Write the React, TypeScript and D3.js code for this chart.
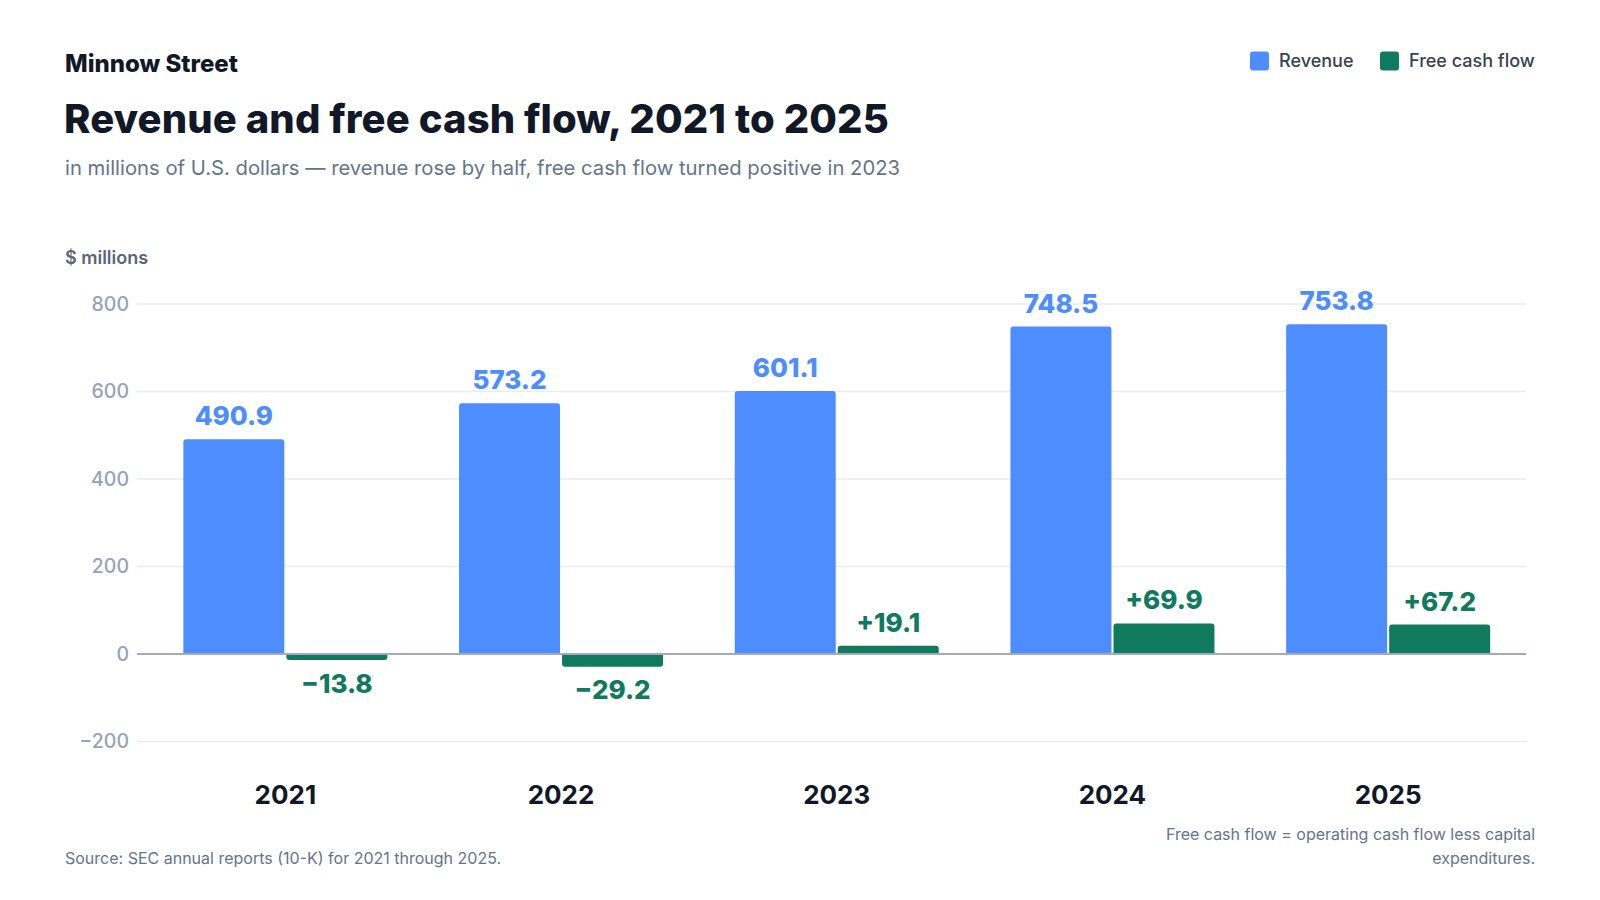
import React from "react";
import * as d3 from "d3";

const years = ["2021", "2022", "2023", "2024", "2025"];
const revenue = [490.9, 573.2, 601.1, 748.5, 753.8];
const freeCashFlow = [-13.8, -29.2, 19.1, 69.9, 67.2];
const yTicks = [-200, 0, 200, 400, 600, 800];
const seriesNames = ["Revenue", "Free cash flow"];
const seriesColors = ["#4D8DFF", "#0F7A5E"];

const FONT = "Inter, 'Noto Sans', sans-serif";

function barPath(x: number, w: number, y0: number, y1: number, r: number) {
  const h = Math.abs(y1 - y0);
  const rr = Math.min(r, h / 2, w / 2);
  if (y1 <= y0) {
    return `M${x},${y0} L${x},${y1 + rr} Q${x},${y1} ${x + rr},${y1} L${x + w - rr},${y1} Q${x + w},${y1} ${x + w},${y1 + rr} L${x + w},${y0} Z`;
  }
  return `M${x},${y0} L${x},${y1 - rr} Q${x},${y1} ${x + rr},${y1} L${x + w - rr},${y1} Q${x + w},${y1} ${x + w},${y1 - rr} L${x + w},${y0} Z`;
}

function fmtFcf(v: number) {
  return (v < 0 ? "\u2212" : "+") + Math.abs(v).toFixed(1);
}
function fmtTick(v: number) {
  return v < 0 ? "\u2212" + Math.abs(v) : String(v);
}

export default function App() {
  const W = 1600;
  const H = 900;
  const x = d3
    .scaleBand<string>()
    .domain(years)
    .range([147.5, 1526])
    .paddingInner(0.26)
    .paddingOuter(0.13);
  const xs = d3
    .scaleBand<string>()
    .domain(seriesNames)
    .range([0, x.bandwidth()])
    .paddingInner(0.02);
  const y = d3.scaleLinear().domain([-200, 800]).range([741.5, 304]);
  const gridX0 = 137;
  const gridX1 = 1526;

  return (
    <svg
      width={W}
      height={H}
      viewBox={`0 0 ${W} ${H}`}
      style={{ position: "absolute", left: 0, top: 0, background: "#fff", fontFamily: FONT }}
    >
      <rect x={0} y={0} width={W} height={H} fill="#ffffff" />
      {/* Header */}
      <text x={65} y={71.5} fontSize={24} fontWeight={800} fill="#111827">
        Minnow Street
      </text>
      <text x={64} y={133} fontSize={40} fontWeight={800} fill="#111827" letterSpacing={0.1}>
        Revenue and free cash flow, 2021 to 2025
      </text>
      <text x={65} y={175} fontSize={20.25} fontWeight={400} fill="#64748B">
        in millions of U.S. dollars — revenue rose by half, free cash flow turned positive in 2023
      </text>

      {/* Legend */}
      {seriesNames.map((s, i) => {
        const lx = i === 0 ? 1250 : 1380;
        return (
          <g key={s}>
            <rect x={lx} y={51.5} width={19} height={19} rx={3} fill={seriesColors[i]} />
            <text x={lx + 29} y={67.3} fontSize={18} fontWeight={500} fill="#374151">
              {s}
            </text>
          </g>
        );
      })}

      {/* Axis title */}
      <text x={65} y={264} fontSize={18} fontWeight={600} fill="#5B6577">
        $ millions
      </text>

      {/* Gridlines and ticks */}
      {yTicks.map((t) => (
        <g key={t}>
          {t !== 0 && (
            <line x1={gridX0} x2={gridX1} y1={y(t)} y2={y(t)} stroke="#E8EBF0" strokeWidth={1.5} />
          )}
          <text
            x={129}
            y={y(t)}
            dy="0.35em"
            textAnchor="end"
            fontSize={19.5}
            fontWeight={500}
            fill="#94A3B8"
          >
            {fmtTick(t)}
          </text>
        </g>
      ))}

      {/* Bars */}
      {years.map((yr, i) => {
        const gx = x(yr)!;
        const rv = revenue[i];
        const fv = freeCashFlow[i];
        const rx0 = gx + xs(seriesNames[0])!;
        const fx0 = gx + xs(seriesNames[1])!;
        const bw = xs.bandwidth();
        const y0 = y(0);
        return (
          <g key={yr}>
            <path d={barPath(rx0, bw, y0, y(rv), 3)} fill={seriesColors[0]} />
            <path d={barPath(fx0, bw, y0, y(fv), 3)} fill={seriesColors[1]} />
            <text
              x={rx0 + bw / 2}
              y={y(rv) - 14}
              textAnchor="middle"
              fontSize={26}
              fontWeight={800}
              fill={seriesColors[0]}
            >
              {rv.toFixed(1)}
            </text>
            <text
              x={fx0 + bw / 2}
              y={fv >= 0 ? y(fv) - 14 : y(fv) + 32.5}
              textAnchor="middle"
              fontSize={26}
              fontWeight={800}
              fill={seriesColors[1]}
            >
              {fmtFcf(fv)}
            </text>
            <text
              x={gx + x.bandwidth() / 2}
              y={804}
              textAnchor="middle"
              fontSize={26}
              fontWeight={700}
              fill="#111827"
            >
              {yr}
            </text>
          </g>
        );
      })}

      {/* Zero line */}
      <line x1={gridX0} x2={gridX1} y1={y(0)} y2={y(0)} stroke="#A3AAB8" strokeWidth={2} />

      {/* Footer */}
      <text x={65} y={864} fontSize={16} fill="#64748B">
        Source: SEC annual reports (10-K) for 2021 through 2025.
      </text>
      <text x={1535} y={839.5} fontSize={16} fill="#64748B" textAnchor="end">
        Free cash flow = operating cash flow less capital
      </text>
      <text x={1535} y={864} fontSize={16} fill="#64748B" textAnchor="end">
        expenditures.
      </text>
    </svg>
  );
}
